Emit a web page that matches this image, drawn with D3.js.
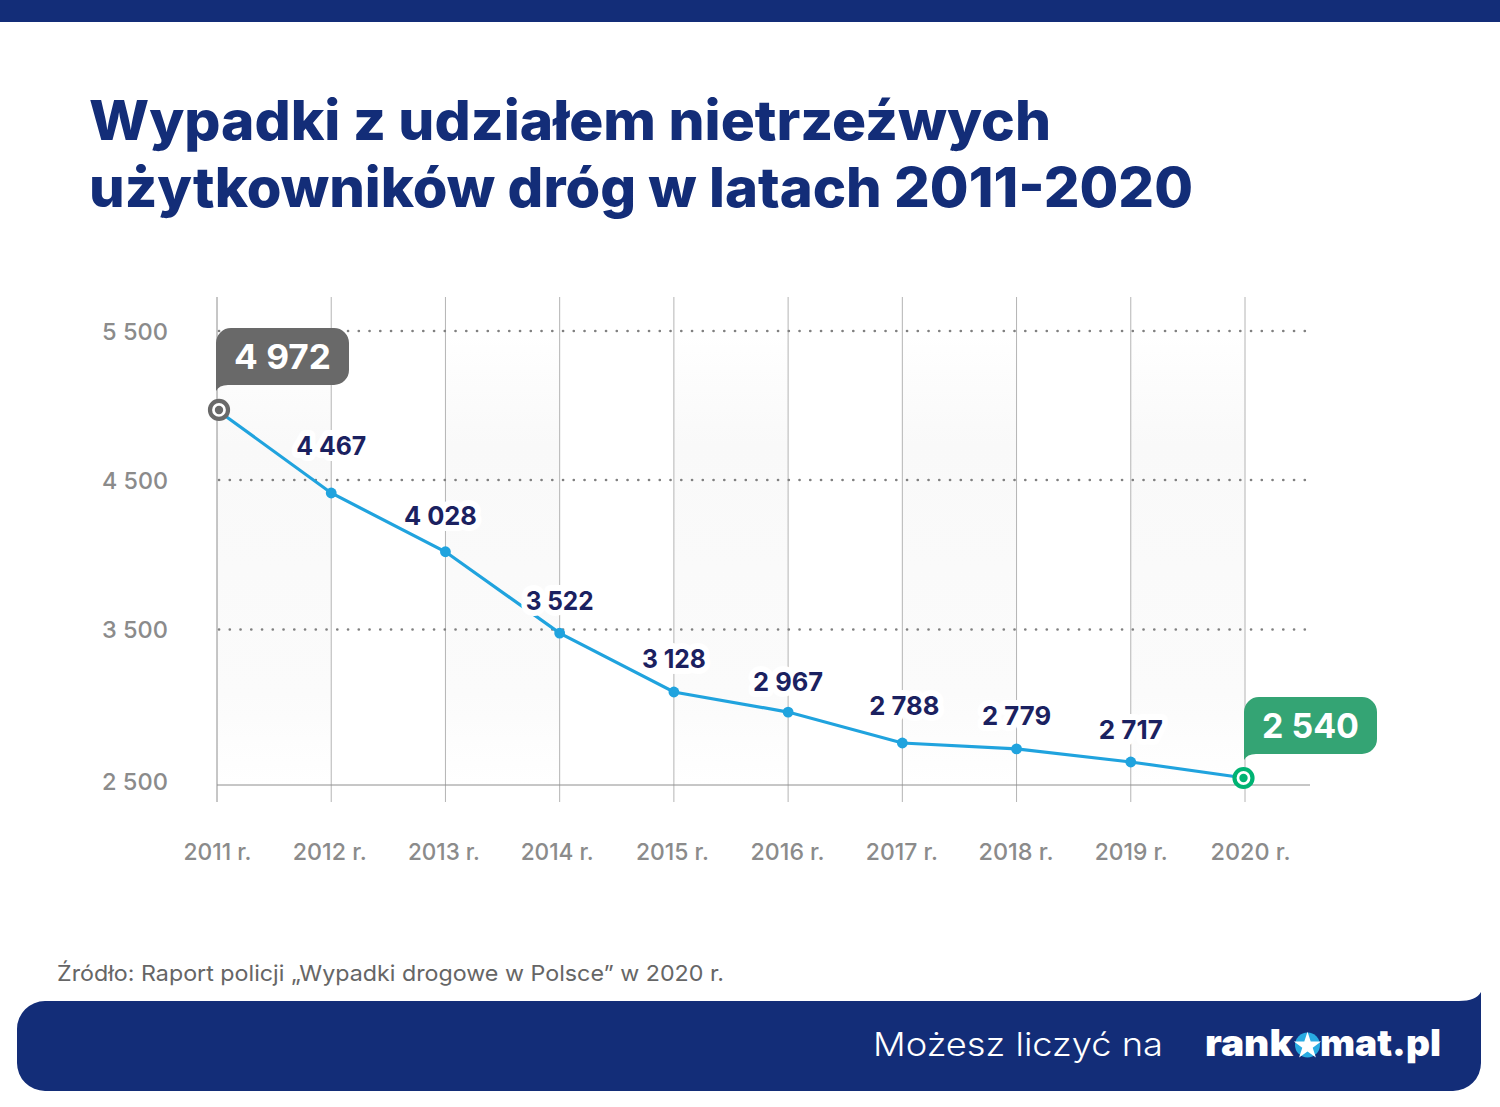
<!DOCTYPE html>
<html lang="pl">
<head>
<meta charset="utf-8">
<title>Wypadki z udziałem nietrzeźwych</title>
<script src="https://cdn.jsdelivr.net/npm/d3@7"></script>
<style>
  html, body { margin: 0; padding: 0; background: #fff; }
  svg { display: block; }
  text { font-family: Inter, "Open Sans", sans-serif; }
</style>
</head>
<body>
<div id="chart"></div>
<script>
// categories and values
var years = ['2011 r.','2012 r.','2013 r.','2014 r.','2015 r.','2016 r.','2017 r.','2018 r.','2019 r.','2020 r.'];
// printed numbers
var printed = [4972, 4467, 4028, 3522, 3128, 2967, 2788, 2779, 2717, 2540];
// where the line really sits against the axis (the picture doesn't plot exactly the printed numbers)
var plotted = [4970, 4413, 4020, 3477, 3098, 2969, 2770, 2732, 2648, 2545];
var yTicks = [5500, 4500, 3500, 2500];

var navy = '#132d78';
var w = 1500, h = 1107;

var svg = d3.select('#chart').append('svg').attr('width', w).attr('height', h);

// polish thousands separator
function fmt(v){
    return d3.format(',')(v).replace(',', ' ');
}

// text helper, textLength keeps the widths of the original font
function label(x, y, str, size, weight, fill, len){
    var t = svg.append('text')
        .attr('x', x).attr('y', y)
        .attr('font-size', size)
        .attr('font-weight', weight)
        .attr('fill', fill)
        .text(str);
    if (len) t.attr('textLength', len).attr('lengthAdjust', 'spacingAndGlyphs');
    return t;
}

// scales, the bottom step of the axis is a bit taller in the original
var x = d3.scalePoint().domain(years).range([217, 1245]);
var y = d3.scaleLinear().domain([2500, 3500, 4500, 5500]).range([785, 629.5, 480, 331]);

// header + footer
svg.append('rect').attr('width', w).attr('height', 22).attr('fill', navy);
label(89, 140, 'Wypadki z udziałem nietrzeźwych', 55, 800, navy, 962);
label(89, 207, 'użytkowników dróg w latach 2011-2020', 55, 800, navy, 1104);

// soft bands behind the chart
var defs = svg.append('defs');
var grad = defs.append('linearGradient').attr('id', 'band').attr('x1', 0).attr('y1', 0).attr('x2', 0).attr('y2', 1);
grad.append('stop').attr('offset', '0%').attr('stop-color', '#ffffff');
grad.append('stop').attr('offset', '25%').attr('stop-color', '#f9f9f9');
grad.append('stop').attr('offset', '80%').attr('stop-color', '#fbfbfb');
grad.append('stop').attr('offset', '100%').attr('stop-color', '#ffffff');

svg.append('g').selectAll('rect')
    .data(years.filter(function(d, i){ return i % 2 == 0; }))
    .enter().append('rect')
    .attr('x', function(d){ return x(d); })
    .attr('y', y(5500))
    .attr('width', x.step())
    .attr('height', y(2500) - y(5500))
    .attr('fill', 'url(#band)');

// vertical lines
svg.append('g').selectAll('line')
    .data(years)
    .enter().append('line')
    .attr('x1', function(d){ return x(d); })
    .attr('x2', function(d){ return x(d); })
    .attr('y1', 297)
    .attr('y2', 802)
    .attr('stroke', function(d, i){ return i == 0 ? '#8e8e8e' : '#b4b4b4'; })
    .attr('stroke-width', 1);

// dotted horizontal lines
svg.append('g').selectAll('line')
    .data(yTicks.slice(0, 3))
    .enter().append('line')
    .attr('x1', 219)
    .attr('x2', 1306)
    .attr('y1', function(d){ return y(d); })
    .attr('y2', function(d){ return y(d); })
    .attr('stroke', '#808080')
    .attr('stroke-width', 2.6)
    .attr('stroke-linecap', 'round')
    .attr('stroke-dasharray', '0.1 10.65');

// baseline
svg.append('line')
    .attr('x1', 217).attr('x2', 1310)
    .attr('y1', y(2500)).attr('y2', y(2500))
    .attr('stroke', '#8e8e8e').attr('stroke-width', 1);

// axes, only their labels are visible
var axisY = svg.append('g')
    .attr('transform', 'translate(168,0)')
    .call(d3.axisLeft(y).tickValues(yTicks).tickSize(0).tickPadding(0).tickFormat(fmt));
axisY.select('.domain').remove();
axisY.selectAll('text')
    .attr('font-size', 23.5)
    .attr('font-weight', 500)
    .attr('fill', '#8b8b8b')
    .attr('font-family', 'Inter')
    .attr('dy', function(d){ return d == 2500 ? 4 : 8; })
    .attr('textLength', 66)
    .attr('lengthAdjust', 'spacingAndGlyphs');

var tickDx = [0, -2, -2, -3, -2, -1, -1, -1, 0, 5];
var tickLen = [68, 74, 72, 73, 73, 74, 72, 75, 73, 80];
var axisX = svg.append('g')
    .attr('transform', 'translate(0,860)')
    .call(d3.axisBottom(x).tickSize(0).tickPadding(0));
axisX.select('.domain').remove();
axisX.selectAll('text')
    .attr('font-size', 23.5)
    .attr('font-weight', 500)
    .attr('fill', '#8b8b8b')
    .attr('font-family', 'Inter')
    .attr('y', 0)
    .attr('dy', 0)
    .attr('dx', function(d, i){ return tickDx[i]; })
    .attr('textLength', function(d, i){ return tickLen[i]; })
    .attr('lengthAdjust', 'spacingAndGlyphs');

// the line
var line = d3.line()
    .x(function(d, i){ return x(years[i]); })
    .y(function(d){ return y(d); });

svg.append('path')
    .datum(plotted)
    .attr('d', line)
    .attr('fill', 'none')
    .attr('stroke', '#20a3de')
    .attr('stroke-width', 3.2);

// normal points
svg.append('g').selectAll('circle')
    .data(plotted.slice(1, 9))
    .enter().append('circle')
    .attr('cx', function(d, i){ return x(years[i + 1]); })
    .attr('cy', function(d){ return y(d); })
    .attr('r', 5.4)
    .attr('fill', '#20a3de');

// value labels, offsets from the point
var labelDx = [0, 0, -5, 0, 0, 0, 2, 0, 0];
var labelDy = [0, -38.5, -26.5, -23.5, -24.5, -21.5, -28, -23.5, -22.5];
var labelLen = [0, 70, 73, 68, 64, 70, 70, 69, 64];
plotted.slice(1, 9).forEach(function(v, i){
    label(x(years[i + 1]) + labelDx[i + 1], y(v) + labelDy[i + 1], fmt(printed[i + 1]), 26, 700, '#1b2160', labelLen[i + 1])
        .attr('text-anchor', 'middle')
        .attr('stroke', '#fff')
        .attr('stroke-width', 12)
        .attr('stroke-linejoin', 'round')
        .attr('paint-order', 'stroke');
});

// callout with tail going down on the left side
function callout(px, top, fill, value){
    var bw = 133, bh = 57, r = 15;
    svg.append('path')
        .attr('d', 'M' + px + ',' + (top + r)
            + 'a' + r + ',' + r + ' 0 0 1 ' + r + ',' + (-r)
            + 'h' + (bw - 2 * r)
            + 'a' + r + ',' + r + ' 0 0 1 ' + r + ',' + r
            + 'v' + (bh - 2 * r)
            + 'a' + r + ',' + r + ' 0 0 1 ' + (-r) + ',' + r
            + 'H' + (px + 12)
            + 'q-9,0 -12,6 Z')
        .attr('fill', fill);
    label(px + bw / 2, top + 41, fmt(value), 34, 700, '#fff', 97).attr('text-anchor', 'middle');
}

// ringed end point
function ring(cx, cy, color){
    svg.append('circle').attr('cx', cx).attr('cy', cy).attr('r', 9)
        .attr('fill', '#fff').attr('stroke', color).attr('stroke-width', 4.2);
    svg.append('circle').attr('cx', cx).attr('cy', cy).attr('r', 4.2).attr('fill', color);
}

callout(216, 328, '#696969', printed[0]);
callout(1244, 697, '#34a474', printed[9]);
ring(x(years[0]) + 2, y(plotted[0]), '#696969');
ring(x(years[9]) - 1.5, y(plotted[9]), '#00b373');

// source
label(57, 981, 'Źródło: Raport policji „Wypadki drogowe w Polsce” w 2020 r.', 22, 400, '#666666', 667);

// footer
svg.append('path')
    .attr('d', 'M45,1001 H1459 Q1476,1001 1481,992 V1063 A28,28 0 0 1 1453,1091 H45 A28,28 0 0 1 17,1063 V1029 A28,28 0 0 1 45,1001 Z')
    .attr('fill', navy);
label(873, 1056, 'Możesz liczyć na', 33, 300, '#fff', 290);

// logo
label(1205, 1056, 'rank', 37, 900, '#fff', 88);
label(1320, 1056, 'mat.pl', 37, 900, '#fff', 121);
svg.append('circle').attr('cx', 1307.5).attr('cy', 1045).attr('r', 12.5).attr('fill', '#29abe2');
svg.append('path')
    .attr('d', d3.symbol().type(d3.symbolStar).size(230))
    .attr('transform', 'translate(1307.5,1046)')
    .attr('fill', '#fff');
</script>
</body>
</html>
